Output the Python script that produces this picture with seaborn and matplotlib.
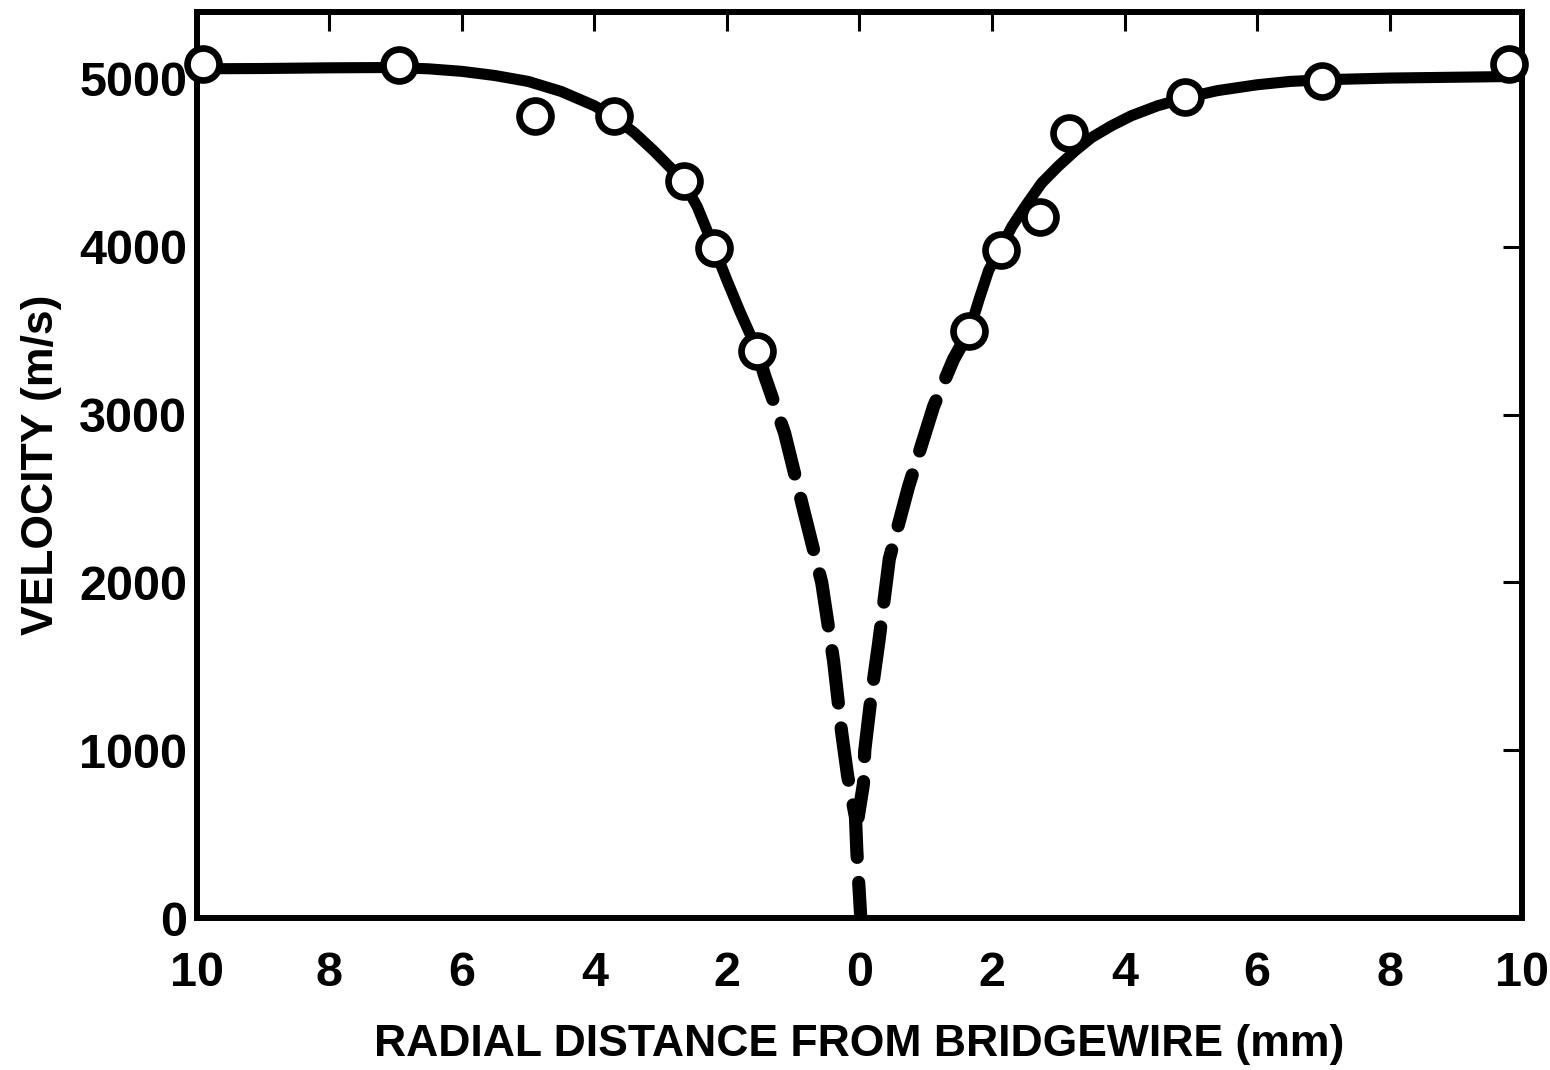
import matplotlib
matplotlib.use("Agg")
import matplotlib.pyplot as plt
import seaborn as sns

# Data (radial distance in mm, velocity in m/s)
# fitted curve, solid part left of the bridgewire
left_solid_x = [-10, -9, -8, -7, -6.5, -6, -5.5, -5, -4.5, -4.0, -3.7, -3.4, -3.1,
                -2.85, -2.65, -2.45, -2.2, -2.0, -1.8, -1.55]
left_solid_y = [5060, 5062, 5066, 5068, 5060, 5045, 5020, 4985, 4925, 4840, 4770,
                4680, 4570, 4470, 4380, 4240, 4000, 3800, 3610, 3390]
# extrapolated (dashed) part
left_dash_x = [-1.55, -1.43, -1.13, -0.83, -0.57, -0.39, -0.27, -0.18, -0.06, -0.04, 0.02]
left_dash_y = [3390, 3230, 2890, 2410, 2000, 1530, 1110, 850, 600, 400, 0]
right_dash_x = [1.66, 1.42, 1.12, 0.74, 0.45, 0.29, 0.17, 0.08, 0.06, -0.02]
right_dash_y = [3500, 3330, 3050, 2570, 2140, 1640, 1300, 1000, 800, 600]
# solid part right of the bridgewire
right_solid_x = [1.66, 1.8, 1.95, 2.13, 2.3, 2.5, 2.75, 3.0, 3.25, 3.5, 3.8, 4.1, 4.5,
                 4.95, 5.4, 6.0, 6.5, 7.0, 8.0, 9.0, 10]
right_solid_y = [3500, 3680, 3860, 3990, 4120, 4240, 4380, 4480, 4570, 4650, 4720,
                 4780, 4840, 4890, 4930, 4965, 4985, 4995, 5005, 5010, 5015]

# measured points (open circles)
meas_x = [-9.9, -6.95, -4.9, -3.7, -2.65, -2.2, -1.55, 1.66, 2.13, 2.72, 3.16, 4.92, 6.98, 9.8]
meas_y = [5090, 5080, 4780, 4780, 4390, 3990, 3380, 3500, 3980, 4180, 4680, 4890, 4990, 5090]

x_ticks = [-10, -8, -6, -4, -2, 0, 2, 4, 6, 8, 10]
x_labels = ["10", "8", "6", "4", "2", "0", "2", "4", "6", "8", "10"]
y_ticks = [0, 1000, 2000, 3000, 4000, 5000]

sns.set_style("white")
plt.rcParams["font.family"] = ["Liberation Sans Narrow", "Liberation Sans", "DejaVu Sans"]

fig = plt.figure(figsize=(15.5, 10.7), dpi=100)
ax = fig.add_axes([0.127, 0.142, 0.855, 0.847])

lw = 8
sns.lineplot(x=left_solid_x, y=left_solid_y, color="black", linewidth=lw, ax=ax,
             sort=False, estimator=None)
sns.lineplot(x=right_solid_x, y=right_solid_y, color="black", linewidth=lw, ax=ax,
             sort=False, estimator=None)
for line in ax.lines:
    line.set_solid_joinstyle("round")
for dx, dy in [(left_dash_x, left_dash_y), (right_dash_x, right_dash_y)]:
    line = sns.lineplot(x=dx, y=dy, color="black", linewidth=9.5, ax=ax,
                        sort=False, estimator=None).lines[-1]
    line.set_dashes((4.0, 1.9))
    line.set_dash_capstyle("round")

sns.scatterplot(x=meas_x, y=meas_y, ax=ax, s=23 ** 2, facecolor="white",
                edgecolor="black", linewidth=4.8, zorder=5, clip_on=False)

ax.set_xlim(-10, 10)
ax.set_ylim(0, 5400)
ax.set_xticks(x_ticks)
ax.set_xticklabels(x_labels)
ax.set_yticks(y_ticks)

for s in ax.spines.values():
    s.set_linewidth(4.3)
    s.set_color("black")
ax.tick_params(direction="in", length=14, width=2.2, top=True, right=True,
               labelsize=35, colors="black")
ax.tick_params(axis="x", pad=24)
ax.tick_params(axis="y", pad=7)
for lab in ax.get_xticklabels() + ax.get_yticklabels():
    lab.set_fontweight("bold")

ax.set_xlabel("RADIAL DISTANCE FROM BRIDGEWIRE (mm)", fontsize=32, fontweight="bold",
              color="black", labelpad=20)
ax.set_ylabel("VELOCITY (m/s)", fontsize=32, fontweight="bold", color="black",
              labelpad=12)

fig.savefig("out.png", dpi=100)
